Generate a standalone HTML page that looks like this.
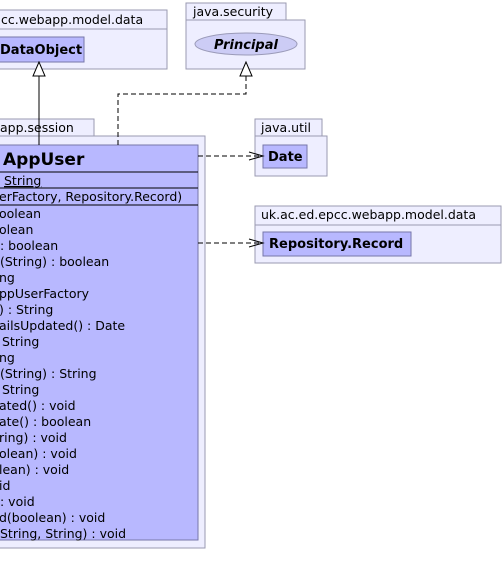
<!DOCTYPE html>
<html><head><style>html,body{margin:0;padding:0;background:#fff;}svg{display:block}text{font-family:"DejaVu Sans","Liberation Sans",sans-serif;font-size:12.5px;fill:#000}</style></head>
<body>
<svg width="504" height="587" viewBox="0 0 504 587" xmlns="http://www.w3.org/2000/svg">
<!-- top-left package -->
<rect x="-5" y="10" width="172" height="19" fill="#eeeeff" stroke="#9a9ab0"/>
<rect x="-5" y="29" width="172" height="40" fill="#eeeeff" stroke="#9a9ab0"/>
<text x="1" y="24">cc.webapp.model.data</text>
<rect x="-5" y="37" width="89" height="25" fill="#b8b8ff" stroke="#7777aa"/>
<text x="0" y="54" style="font-weight:bold;font-size:13px">DataObject</text>
<!-- java.security -->
<rect x="186" y="3" width="100" height="17" fill="#eeeeff" stroke="#9a9ab0"/>
<rect x="186" y="20" width="119" height="49" fill="#eeeeff" stroke="#9a9ab0"/>
<text x="193" y="16">java.security</text>
<ellipse cx="246" cy="44" rx="51" ry="11" fill="#ccccf5" stroke="#9a9ab8"/>
<text x="246" y="49" text-anchor="middle" style="font-weight:bold;font-style:italic;font-size:13px">Principal</text>
<!-- session package -->
<rect x="-5" y="119" width="99" height="17" fill="#eeeeff" stroke="#9a9ab0"/>
<rect x="-5" y="136" width="210" height="412" fill="#eeeeff" stroke="#9a9ab0"/>
<text x="0" y="132">app.session</text>
<!-- class -->
<rect x="-5" y="145" width="203" height="395" fill="#b8b8ff" stroke="#7777aa"/>
<line x1="-5" y1="172" x2="198" y2="172" stroke="#000"/>
<line x1="-5" y1="188" x2="198" y2="188" stroke="#000"/>
<line x1="-5" y1="205" x2="198" y2="205" stroke="#000"/>
<text x="3" y="165" style="font-weight:bold;font-size:17px">AppUser</text>
<text x="4" y="185" text-decoration="underline">String</text>
<text x="-1" y="201">erFactory, Repository.Record)</text>
<g>
<text x="-1" y="218">oolean</text>
<text x="-1" y="234">olean</text>
<text x="0" y="250">: boolean</text>
<text x="0" y="266">(String) : boolean</text>
<text x="-1" y="282">ng</text>
<text x="-1" y="298">ppUserFactory</text>
<text x="-1" y="314">) : String</text>
<text x="-1" y="330">ailsUpdated() : Date</text>
<text x="2" y="346">String</text>
<text x="-1" y="362">ng</text>
<text x="0" y="378">(String) : String</text>
<text x="2" y="394">String</text>
<text x="-1" y="410">ated() : void</text>
<text x="-1" y="426">ate() : boolean</text>
<text x="-1" y="442">ring) : void</text>
<text x="-1" y="458">olean) : void</text>
<text x="-1" y="474">lean) : void</text>
<text x="-1" y="490">id</text>
<text x="0" y="506">: void</text>
<text x="-1" y="522">d(boolean) : void</text>
<text x="0" y="538">String, String) : void</text>
</g>
<!-- java.util -->
<rect x="255" y="119" width="67" height="17" fill="#eeeeff" stroke="#9a9ab0"/>
<rect x="255" y="136" width="72" height="40" fill="#eeeeff" stroke="#9a9ab0"/>
<text x="261" y="132">java.util</text>
<rect x="263" y="145" width="44" height="23" fill="#b8b8ff" stroke="#7777aa"/>
<text x="268" y="161" style="font-weight:bold;font-size:13px">Date</text>
<!-- uk package -->
<rect x="255" y="206" width="246" height="19" fill="#eeeeff" stroke="#9a9ab0"/>
<rect x="255" y="225" width="246" height="38" fill="#eeeeff" stroke="#9a9ab0"/>
<text x="261" y="219">uk.ac.ed.epcc.webapp.model.data</text>
<rect x="263" y="232" width="148" height="24" fill="#b8b8ff" stroke="#7777aa"/>
<text x="269" y="248" style="font-weight:bold;font-size:13px">Repository.Record</text>
<!-- connectors -->
<line x1="39" y1="145" x2="39" y2="76" stroke="#000"/>
<polygon points="39,62 33,76 45,76" fill="#fff" stroke="#000"/>
<polyline points="118,145 118,94 246,94 246,76" fill="none" stroke="#000" stroke-dasharray="5,3"/>
<polygon points="246,62 240,76 252,76" fill="#fff" stroke="#000"/>
<line x1="198" y1="156" x2="262" y2="156" stroke="#000" stroke-dasharray="5,3"/>
<polyline points="249,152 263,156 249,160" fill="none" stroke="#000"/>
<line x1="198" y1="243" x2="262" y2="243" stroke="#000" stroke-dasharray="5,3"/>
<polyline points="249,239 263,243 249,247" fill="none" stroke="#000"/>
</svg>
</body></html>
